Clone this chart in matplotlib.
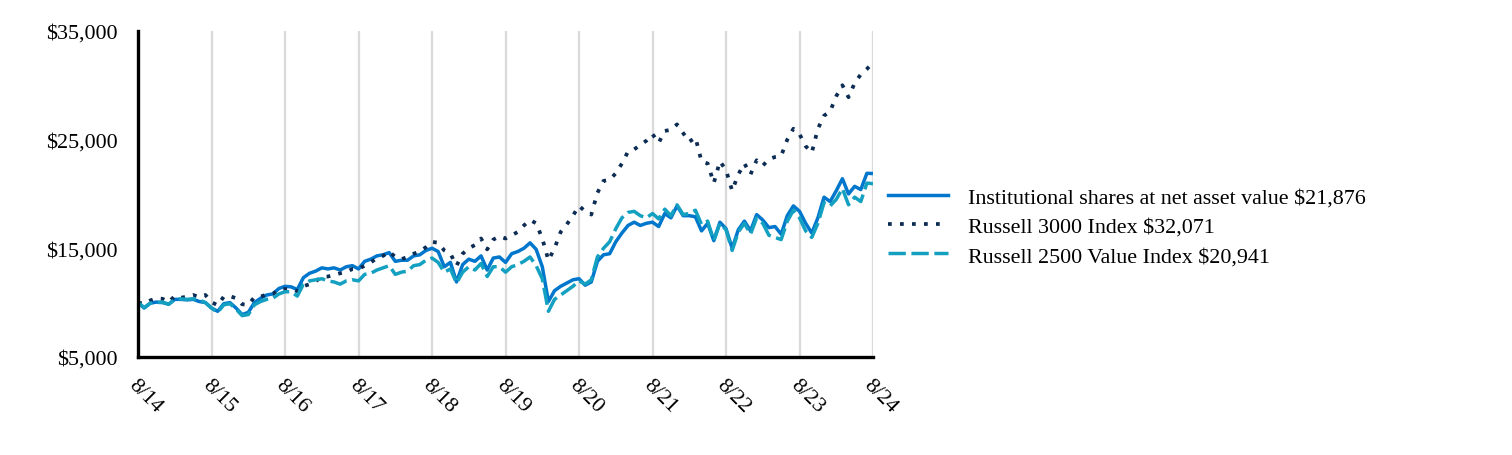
import numpy as np
from matplotlib import pylab as plt

# 月度数据 8/14 - 8/24
fund = [10000, 9500, 9950, 10050, 10000, 9850, 10300, 10300, 10250, 10300, 10100, 10000,
        9500, 9200, 9900, 10000, 9500, 8900, 9100, 10000, 10400, 10700, 10800, 11300,
        11500, 11450, 11200, 12300, 12700, 12900, 13200, 13100, 13200, 13000, 13300, 13400,
        13100, 13800, 14000, 14300, 14400, 14600, 13800, 13900, 13900, 14300, 14400, 14800,
        15000, 14700, 13300, 13700, 11900, 13500, 14000, 13800, 14300, 13000, 14100, 14200,
        13700, 14500, 14700, 15000, 15500, 14900, 13300, 10100, 11100, 11500, 11800, 12100,
        12200, 11600, 11900, 13800, 14400, 14500, 15600, 16400, 17100, 17400, 17100, 17300,
        17400, 17000, 18200, 17800, 18900, 18000, 18000, 17900, 16600, 17300, 15700, 17400,
        16800, 15000, 16700, 17500, 16600, 18100, 17600, 16900, 17000, 16300, 18000, 18900,
        18400, 17300, 16400, 17800, 19700, 19300, 20300, 21400, 20000, 20700, 20400, 21900,
        21876]
r3000 = [10000, 9900, 10200, 10400, 10350, 10050, 10600, 10450, 10550, 10700, 10500, 10700,
         10050, 9750, 10550, 10600, 10400, 9850, 9800, 10500, 10550, 10750, 10800, 11200,
         11250, 11250, 11050, 11500, 11700, 11950, 12400, 12400, 12550, 12700, 12800, 13100,
         13100, 13400, 13700, 14100, 14300, 14700, 14200, 14000, 14200, 14500, 14700, 15100,
         15600, 15500, 14800, 14500, 13400, 14500, 15000, 15300, 15900, 14900, 15800, 16100,
         15900, 16200, 16500, 17100, 17600, 17300, 15900, 13900, 15000, 16500, 17200, 18000,
         18900, 18400, 18100, 20100, 21200, 21300, 21900, 22800, 23900, 24100, 24500, 24900,
         25500, 24700, 25800, 25900, 26400, 25600, 24800, 25200, 23000, 22800, 21000, 23000,
         22200, 20300, 21800, 22800, 21800, 23100, 22600, 23200, 23400, 23500, 25000, 26000,
         25500, 24400, 23800, 26000, 27200, 27600, 29000, 30000, 28900, 30200, 31000, 31500,
         32071]
r2500v = [10000, 9550, 9950, 10000, 10050, 9850, 10300, 10350, 10300, 10350, 10250, 10000,
          9500, 9100, 9800, 9900, 9400, 8800, 8900, 9800, 10100, 10300, 10400, 10800,
          11000, 11000, 10600, 11700, 12000, 12100, 12200, 12000, 11900, 11700, 12000, 12100,
          12000, 12600, 12700, 13000, 13200, 13400, 12600, 12800, 12900, 13400, 13500, 13900,
          14100, 13700, 12800, 13100, 11800, 12800, 13300, 13000, 13600, 12400, 13300, 13300,
          12800, 13300, 13500, 13800, 14200, 13400, 12200, 9200, 10300, 10700, 11100, 11500,
          12000, 11700, 12100, 14200, 15000, 15600, 16800, 17800, 18300, 18400, 18000, 17800,
          18200, 17700, 18600, 18000, 19000, 18100, 18200, 18500, 17200, 17500, 15700, 17300,
          16700, 14800, 16500, 17300, 16300, 17800, 17300, 16200, 16000, 15800, 17500, 18500,
          17800, 16600, 16000, 17300, 19200, 18900, 19500, 20500, 19000, 19700, 19300, 21000,
          20941]

labels = ["Institutional shares at net asset value $21,876",
          "Russell 3000 Index $32,071",
          "Russell 2500 Value Index $20,941"]
xlabels = ["8/14", "8/15", "8/16", "8/17", "8/18", "8/19", "8/20", "8/21", "8/22", "8/23", "8/24"]
yticks = [5000, 15000, 25000, 35000]

plt.rcParams['font.family'] = ['Liberation Serif', 'DejaVu Serif']

fig = plt.figure(figsize=(15.12, 4.56), dpi=100)
ax = fig.add_axes([0.0913, 0.215, 0.4861, 0.715])

m = np.arange(len(fund))
ax.plot(m, fund, color="#0077CC", lw=2.5, label=labels[0], zorder=3)
ax.plot(m, r3000, color="#0C2C54", lw=2.7, dashes=(1, 2.2), label=labels[1], zorder=3)
ax.plot(m, r2500v, color="#14A0C0", lw=2.5, dashes=(5, 1.6), label=labels[2], zorder=3)

ax.set_xlim(0, 120)
ax.set_ylim(5000, 35000)
ax.set_xticks(np.arange(0, 121, 12))
ax.set_xticklabels(xlabels, rotation=-45, ha="left", va="top", rotation_mode="anchor")
ax.set_yticks(yticks)
ax.set_yticklabels(["${:,}".format(v) for v in yticks])
ax.tick_params(axis="both", length=0, labelsize=15.8)
ax.tick_params(axis="y", pad=15)
ax.tick_params(axis="x", pad=13)

ax.grid(True, axis="x", color="#DADADA", lw=1.6)
ax.set_axisbelow(True)
for s in ["top", "right"]:
    ax.spines[s].set_visible(False)
for s in ["left", "bottom"]:
    ax.spines[s].set_linewidth(2.4)
    ax.spines[s].set_zorder(4)

fig.legend(loc="upper left", bbox_to_anchor=(0.574, 0.63), frameon=False,
           fontsize=15.8, handlelength=2.75, handletextpad=0.9, labelspacing=0.4)

plt.savefig("out.png", dpi=100)
